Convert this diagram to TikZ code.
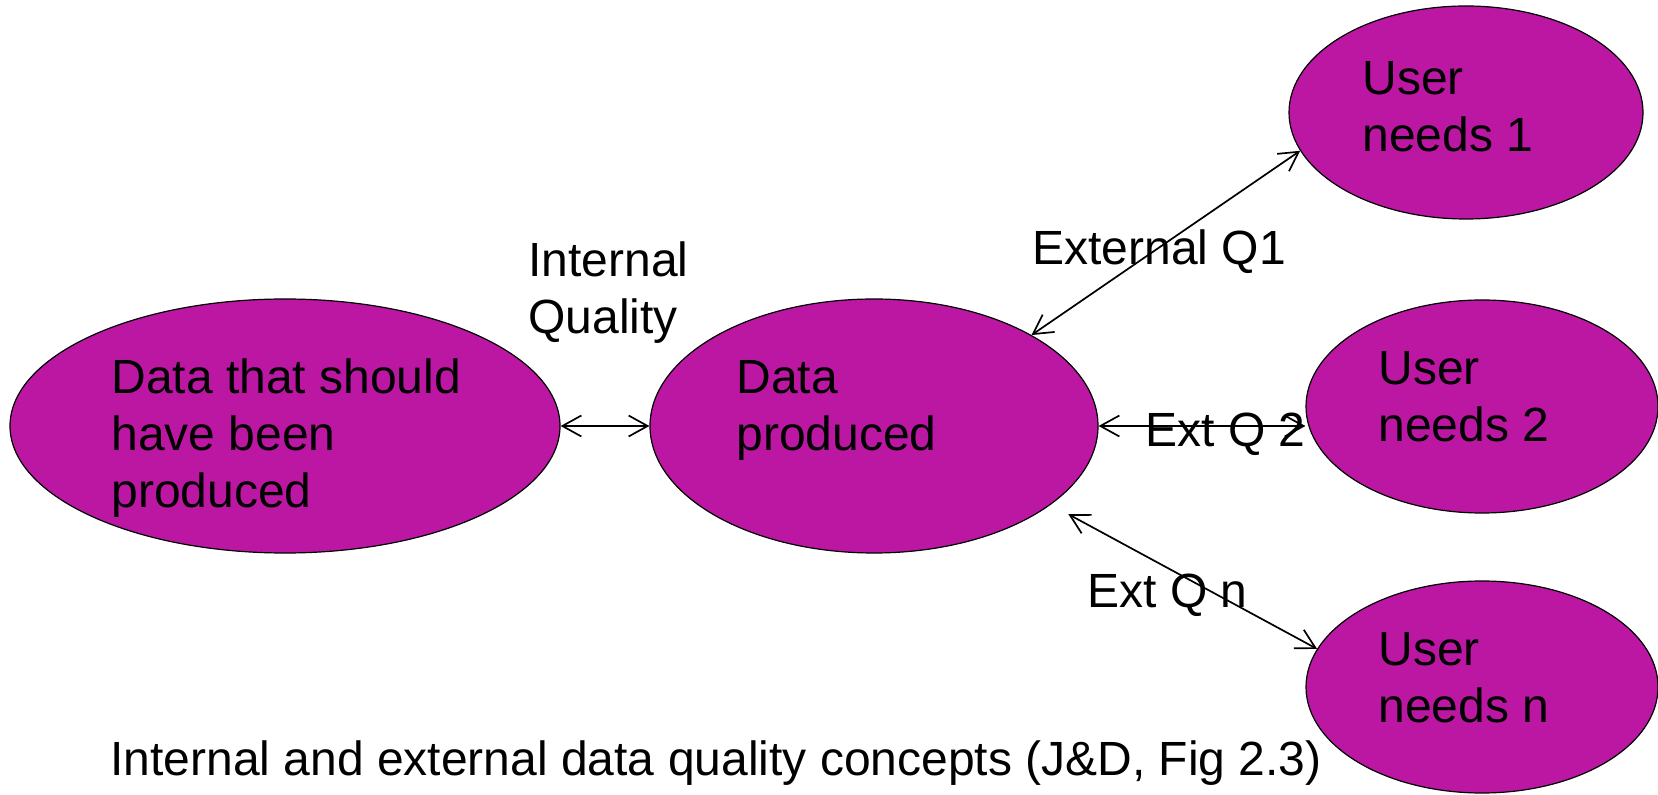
\documentclass[tikz,border=0pt]{standalone}
\usepackage{fontspec}
\setmainfont{Liberation Sans}
\usepackage{xcolor}
\usepackage{tikz}
\usetikzlibrary{shapes.geometric,arrows.meta,positioning,calc}
\definecolor{blobfill}{RGB}{187,23,163}
\tikzset{
    blob/.style={ellipse, draw, line width=0.6pt, fill=blobfill, inner sep=0pt},
    blobtext/.style={anchor=north west, align=left, inner sep=0pt, font=\fontsize{24}{28.5}\selectfont},
    qlabel/.style={anchor=base west, align=left, inner sep=0pt, font=\fontsize{24}{28.5}\selectfont},
    dbl/.style={{Straight Barb[length=9.5pt,width=10.5pt]}-{Straight Barb[length=9.5pt,width=10.5pt]}, line width=0.85pt},
}

\begin{document}
\begin{tikzpicture}[x=0.5pt, y=-0.5pt]
    \useasboundingbox (0,0) rectangle (1658,795);

    % ellipses
    \node[blob, minimum width=275pt, minimum height=127pt] (should) at (285,426) {};
    \node[blob, minimum width=224pt, minimum height=127pt] (prod) at (874,426) {};
    \node[blob, minimum width=177pt, minimum height=106.5pt] (need1) at (1466,112.5) {};
    \node[blob, minimum width=176pt, minimum height=106.5pt] (need2) at (1482,406.5) {};
    \node[blob, minimum width=176pt, minimum height=106pt] (needn) at (1482,687) {};

    % texts in the ellipses
    \node[blobtext] (shouldtxt) at (111,358) {Data that should\\have been\\produced};
    \node[blobtext] (prodtxt) at (736,360) {Data\\produced};
    \node[blobtext] (need1txt) at (1362,61) {User\\needs 1};
    \node[blobtext] (need2txt) at (1378,351) {User\\needs 2};
    \node[blobtext] (needntxt) at (1378,632) {User\\needs n};

    % quality arrows
    \draw[dbl] (should.east) -- (prod.west);
    \draw[dbl] (prod.30) -- (need1.193);
    \draw[dbl] (prod.east) -- (prod.east -| need2.west);
    \draw[dbl, shorten <=10pt] (prod.-24) -- (needn.167);

    \node[blobtext] (intq) at (528,241) {Internal\\Quality};
    \node[qlabel] (extq1) at (1032,265) {External Q1};
    \node[qlabel] (extq2) at (1145,447) {Ext Q 2};
    \node[qlabel] (extqn) at (1087,608) {Ext Q n};

    \node[qlabel] (caption) at (110,775) {Internal and external data quality concepts (J\&D, Fig 2.3)};
\end{tikzpicture}
\end{document}
